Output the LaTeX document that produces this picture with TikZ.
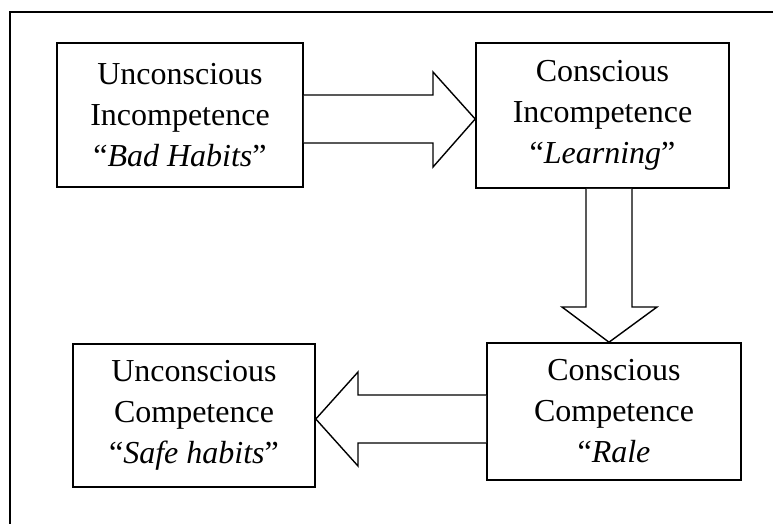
\documentclass[tikz,border=0pt]{standalone}
\usepackage{fontspec}
\setmainfont{Liberation Serif}
\begin{document}
\begin{tikzpicture}[x=1pt,y=-1pt,
  box/.style={draw=black,line width=1.6pt,fill=white,align=center,inner sep=0pt,
    font=\fontsize{32}{41}\selectfont},
  blockarrow/.style={draw=black,line width=1.4pt,fill=white,line join=miter},
  frameline/.style={draw=black,line width=1.6pt}]
\useasboundingbox (0,0) rectangle (773,523);
% cut-off title fragment
\node[anchor=base,inner sep=0pt,font=\fontsize{32}{41}\selectfont] (title) at (346,-7.5) {g};
% outer frame (cut off at right and bottom)
\coordinate (fbl) at (10,540);
\coordinate (ftl) at (10,12);
\coordinate (ftr) at (790,12);
\draw[frameline] (fbl) -- (ftl) -- (ftr);
% boxes
\node[box,minimum width=246pt,minimum height=144pt] (b1) at (180,115) {Unconscious\\Incompetence\\“\textit{Bad Habits}”};
\node[box,minimum width=253pt,minimum height=145pt] (b2) at (602.5,115.5) {Conscious\\Incompetence\\“\textit{Learning}”};
\node[box,minimum width=242pt,minimum height=143pt] (b3) at (194,415.5) {Unconscious\\Competence\\“\textit{Safe habits}”};
\node[box,minimum width=254pt,minimum height=137pt] (b4) at (614,411.5) {Conscious\\Competence\\“\textit{Rale}};
% right arrow b1 -> b2
\coordinate (a1s1) at (b1.east |- 0,95);
\coordinate (a1s2) at (b1.east |- 0,143);
\coordinate (a1t) at (b2.west |- 0,119);
\draw[blockarrow] (a1s1) -- (433,95) -- (433,72) -- (a1t) -- (433,167) -- (433,143) -- (a1s2);
% down arrow b2 -> b4
\coordinate (a2s1) at (586,0 |- b2.south);
\coordinate (a2s2) at (632,0 |- b2.south);
\coordinate (a2t) at (609,0 |- b4.north);
\draw[blockarrow] (a2s1) -- (586,307) -- (562,307) -- (a2t) -- (657,307) -- (632,307) -- (a2s2);
% left arrow b4 -> b3
\coordinate (a3s1) at (b4.west |- 0,395);
\coordinate (a3s2) at (b4.west |- 0,443);
\coordinate (a3t) at (b3.east |- 0,419);
\draw[blockarrow] (a3s1) -- (358,395) -- (358,372) -- (a3t) -- (358,466) -- (358,443) -- (a3s2);
\end{tikzpicture}
\end{document}
